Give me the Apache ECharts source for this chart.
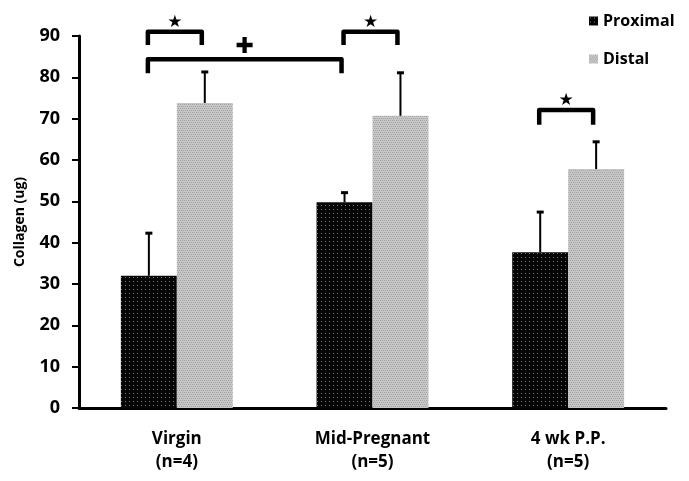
<!DOCTYPE html>
<html>
<head>
<meta charset="utf-8">
<script src="https://cdn.jsdelivr.net/npm/echarts@6/dist/echarts.min.js"></script>
<style>html,body{margin:0;padding:0;background:#fff}#c{width:689px;height:481px}</style>
</head>
<body>
<div id="c"></div>
<script>
var categories = ['Virgin\n(n=4)', 'Mid-Pregnant\n(n=5)', '4 wk P.P.\n(n=5)'];
var proximal = [32, 49.8, 37.7];
var distal = [73.8, 70.7, 57.8];
var proximalErr = [10.3, 2.3, 9.7];
var distalErr = [7.5, 10.4, 6.6];
var yTicks = [0, 10, 20, 30, 40, 50, 60, 70, 80, 90];
// significance brackets: [fromCategory, fromSide(-1 proximal / 1 distal), toCategory, toSide, topValue, armValue, mark]
var brackets = [
  [0, -1, 0, 1, 91, 87.8, '★'],
  [0, -1, 1, -1, 84.4, 81, '✚'],
  [1, -1, 1, 1, 91, 87.8, '★'],
  [2, -1, 2, 1, 72.1, 68.5, '★']
];

function pattern(bg, dot, w, h, dots) {
  var c = document.createElement('canvas');
  c.width = w; c.height = h;
  var g = c.getContext('2d');
  g.fillStyle = bg; g.fillRect(0, 0, w, h);
  g.fillStyle = dot;
  dots.forEach(function (d) { g.fillRect(d[0], d[1], 1, 1); });
  return c;
}
var proxPat = pattern('#060606', '#7a7a7a', 4, 4, [[1, 1]]);
var distPat = pattern('#c6c6c6', '#a4a4a4', 4, 4, [[0, 0], [2, 0], [1, 2], [3, 2]]);
var proxColor = { image: proxPat, repeat: 'repeat' };
var distColor = { image: distPat, repeat: 'repeat' };

var OFF = 0.1429;
var font = '"Open Sans", "Liberation Sans", sans-serif';

var chart = echarts.init(document.getElementById('c'), null, { renderer: 'canvas' });

function errItem(vals, errs, side) {
  return function (params, api) {
    var i = api.value(0);
    var v = vals[i], e = errs[i];
    var bw = api.size([1, 0])[0];
    var p0 = api.coord([i, v]);
    var p1 = api.coord([i, v + e]);
    var x = p0[0] + side * bw * OFF;
    return {
      type: 'group',
      children: [
        { type: 'line', shape: { x1: x, y1: p0[1], x2: x, y2: p1[1] }, style: { stroke: '#000', lineWidth: 2 } },
        { type: 'line', shape: { x1: x - 3.5, y1: p1[1], x2: x + 3.5, y2: p1[1] }, style: { stroke: '#000', lineWidth: 3 } }
      ]
    };
  };
}

chart.setOption({
  animation: false,
  grid: { left: 79, right: 23, top: 36, bottom: 73 },
  legend: {
    orient: 'vertical',
    left: 584, top: 8,
    itemWidth: 9, itemHeight: 9, itemGap: 22,
    icon: 'rect',
    data: ['Proximal', 'Distal'],
    textStyle: { fontFamily: font, fontWeight: 'bold', fontSize: 16, color: '#000' }
  },
  xAxis: {
    type: 'category',
    data: categories,
    axisLine: { lineStyle: { color: '#000', width: 3 } },
    axisTick: { show: false },
    axisLabel: { margin: 20, fontFamily: font, fontWeight: 'bold', fontSize: 17, lineHeight: 23, color: '#000' }
  },
  yAxis: {
    type: 'value',
    min: 0, max: 90, interval: 10,
    name: 'Collagen (ug)',
    nameLocation: 'middle',
    nameGap: 52,
    nameTextStyle: { fontFamily: font, fontWeight: 'bold', fontSize: 14, color: '#000' },
    axisLine: { show: true, lineStyle: { color: '#000', width: 3 } },
    axisTick: { show: true, length: 7, lineStyle: { color: '#000', width: 2 } },
    splitLine: { show: false },
    axisLabel: {
      margin: 19, fontFamily: font, fontWeight: 'bold', fontSize: 18, color: '#000',
      formatter: function (v) { return yTicks.indexOf(v) >= 0 ? String(v) : ''; }
    }
  },
  series: [
    { name: 'Proximal', type: 'bar', data: proximal, barWidth: '28.6%', barGap: '0%', itemStyle: { color: proxColor } },
    { name: 'Distal', type: 'bar', data: distal, barWidth: '28.6%', barGap: '0%', itemStyle: { color: distColor } },
    { type: 'custom', data: [0, 1, 2].map(function (i) { return [i, proximal[i]]; }), renderItem: errItem(proximal, proximalErr, -1), z: 5 },
    { type: 'custom', data: [0, 1, 2].map(function (i) { return [i, distal[i]]; }), renderItem: errItem(distal, distalErr, 1), z: 5 },
    {
      type: 'custom', clip: false, z: 6,
      data: brackets.map(function (b) { return [b[0], b[4]]; }),
      renderItem: function (params, api) {
        var b = brackets[params.dataIndex];
        var bw = api.size([1, 0])[0];
        var a = api.coord([b[0], b[4]]);
        var c = api.coord([b[2], b[4]]);
        var arm = api.coord([b[0], b[5]])[1];
        var x1 = a[0] + b[1] * bw * OFF - 1;
        var x2 = c[0] + b[3] * bw * OFF - 3;
        var y = a[1];
        var mx = (x1 + x2) / 2;
        var isPlus = b[6] === '✚';
        return {
          type: 'group',
          children: [
            { type: 'polyline', shape: { points: [[x1, arm], [x1, y], [x2, y], [x2, arm]] }, style: { stroke: '#000', lineWidth: 4.5, fill: null, lineJoin: 'round' } },
            { type: 'text', x: mx, y: y - 1, style: { text: b[6], fill: '#000', fontSize: isPlus ? 22 : 17, fontFamily: 'DejaVu Sans', align: 'center', verticalAlign: 'bottom', fontWeight: 'bold' } }
          ]
        };
      }
    }
  ]
});
</script>
</body>
</html>
